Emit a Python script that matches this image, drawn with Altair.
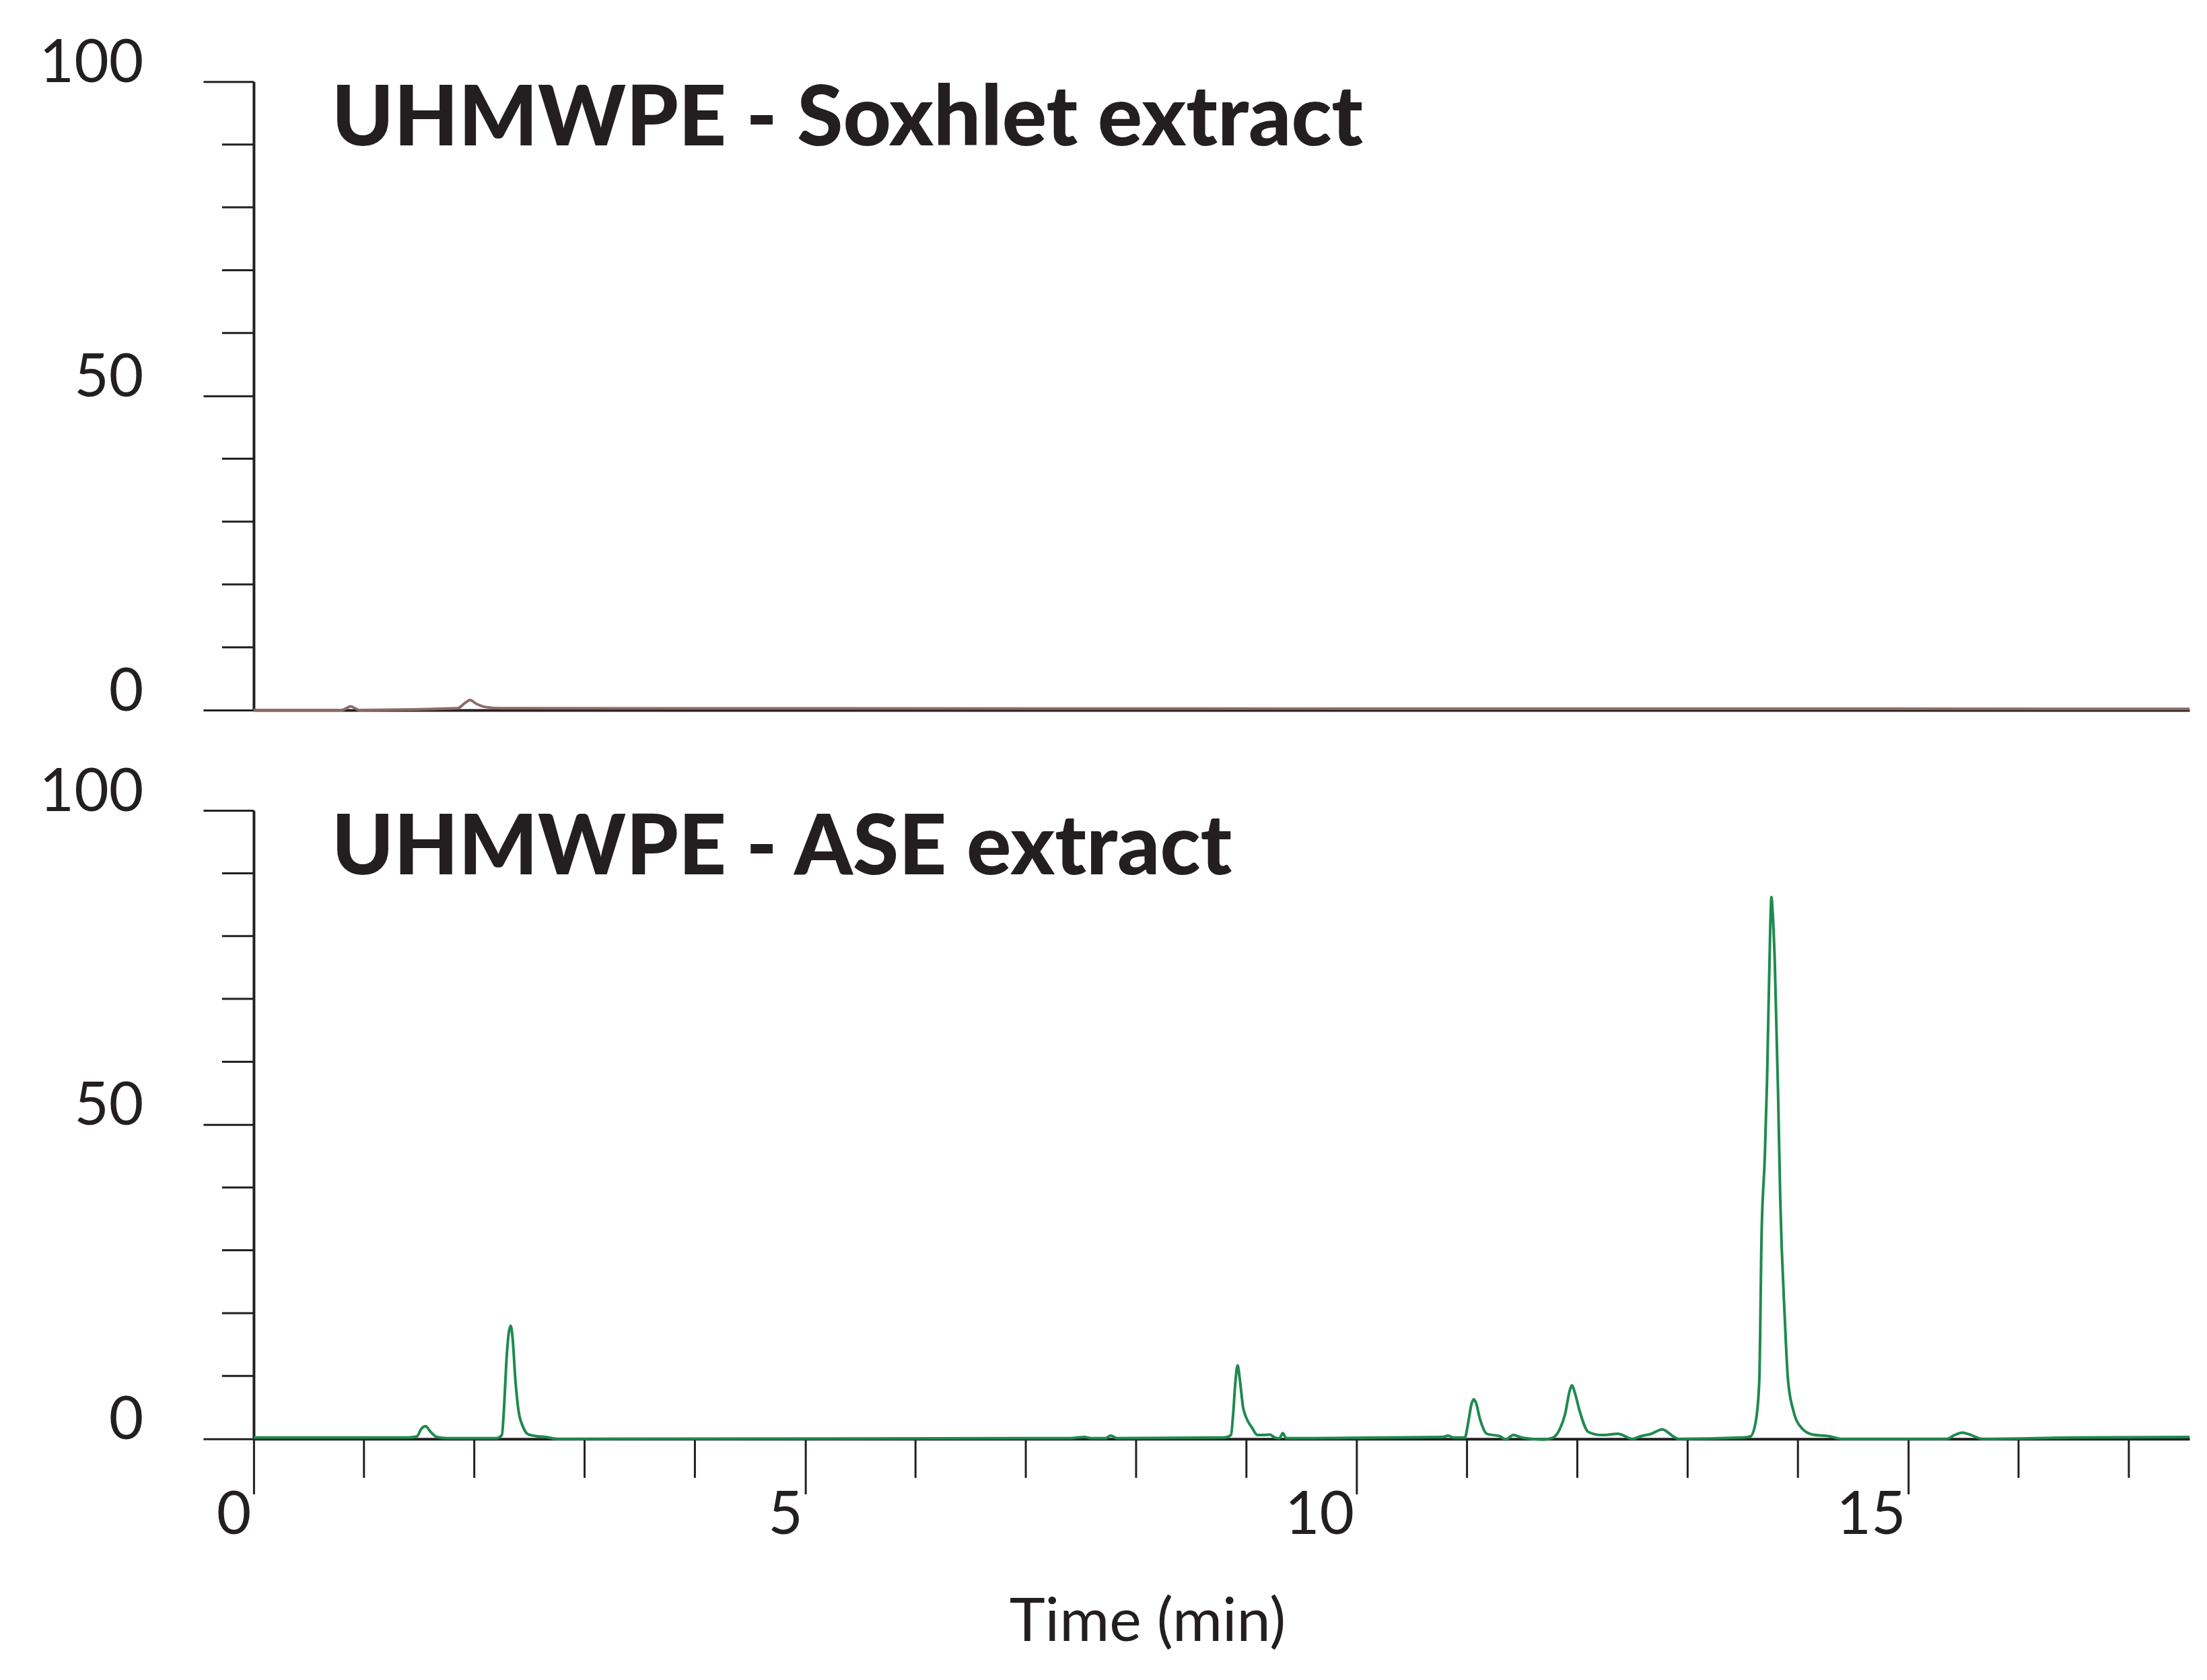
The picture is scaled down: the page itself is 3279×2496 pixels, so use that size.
import altair as alt
import pandas as pd

# ---------------- data ----------------
soxhlet_time = [0.00, 0.80, 0.85, 0.88, 0.92, 0.96, 1.85, 1.92, 1.96, 2.02, 2.10, 2.25, 17.55]
soxhlet_signal = [0.0, 0.0, 0.4, 0.6, 0.3, 0.0, 0.3, 1.2, 1.6, 1.0, 0.5, 0.3, 0.2]

ase_time = [0.00, 1.40, 1.48, 1.52, 1.56, 1.60, 1.66, 1.75,
            2.20, 2.25, 2.27, 2.29, 2.31, 2.33, 2.35, 2.37, 2.40, 2.44, 2.49, 2.58, 2.65, 2.75,
            7.40, 7.53, 7.60, 7.72, 7.77, 7.83,
            8.80, 8.86, 8.88, 8.90, 8.92, 8.94, 8.97, 9.00, 9.05, 9.10, 9.16, 9.21, 9.26, 9.30, 9.33, 9.36, 9.50,
            10.78, 10.83, 10.88, 10.98, 11.01, 11.04, 11.06, 11.08, 11.12, 11.18, 11.30, 11.35, 11.42, 11.50, 11.69,
            11.78, 11.84, 11.89, 11.93, 11.95, 11.98, 12.02, 12.10, 12.22, 12.37, 12.50, 12.57, 12.67, 12.77, 12.87, 12.92,
            13.50, 13.57, 13.62, 13.65, 13.67, 13.70, 13.72, 13.75, 13.76, 13.77, 13.79, 13.82, 13.84, 13.88, 13.91,
            13.96, 14.04, 14.13, 14.29, 14.39,
            15.35, 15.42, 15.49, 15.57, 15.67, 16.50, 17.55]
ase_signal = [0.2, 0.2, 0.4, 1.6, 2.0, 1.2, 0.3, 0.1,
              0.1, 0.6, 5.0, 12.0, 16.5, 18.0, 15.5, 10.0, 4.6, 2.0, 0.7, 0.4, 0.3, 0.0,
              0.1, 0.3, 0.1, 0.1, 0.5, 0.1,
              0.2, 0.6, 4.0, 9.0, 11.7, 9.5, 5.0, 3.3, 1.8, 0.6, 0.6, 0.7, 0.2, 0.1, 0.9, 0.1, 0.1,
              0.3, 0.5, 0.2, 0.2, 2.5, 5.5, 6.3, 5.8, 3.0, 0.8, 0.4, -0.1, 0.6, 0.2, -0.1,
              0.2, 1.5, 4.0, 7.6, 8.5, 7.2, 4.5, 1.1, 0.6, 0.8, 0.0, 0.4, 0.8, 1.5, 0.4, 0.0,
              0.2, 0.4, 3.0, 9.4, 32.0, 45.0, 57.0, 82.0, 86.2, 84.0, 76.0, 55.0, 38.0, 19.5, 9.4,
              4.4, 1.6, 0.7, 0.4, 0.0,
              0.0, 0.6, 1.0, 0.6, 0.0, 0.2, 0.3]

y_major = [0, 50, 100]
y_minor = [10, 20, 30, 40, 60, 70, 80, 90]
x_major = [0, 5, 10, 15]
x_minor = [1, 2, 3, 4, 6, 7, 8, 9, 11, 12, 13, 14, 16, 17]
x_domain = [0, 17.55]
y_domain = [0, 100]
panel_titles = ["UHMWPE - Soxhlet extract", "UHMWPE - ASE extract"]
x_title = "Time (min)"

# ---------------- style ----------------
W, H = 2877, 934
INK = "#231f20"
FONT = "Lato"
SOX_COLOR = "#8c6c68"
ASE_COLOR = "#1e8a4f"

xscale = alt.Scale(domain=x_domain, nice=False, zero=False)
yscale = alt.Scale(domain=y_domain, nice=False)

YAXIS = alt.Axis(values=y_major, tickSize=75, labelPadding=89,
                 labelBaseline="alphabetic", labelAlign="right",
                 labelFlush=False, title=None, grid=False)
XAXIS_BOTTOM = alt.Axis(values=x_major, tickSize=82, labelPadding=59,
                        labelAlign="right", labelOffset=-4,
                        labelBaseline="alphabetic", labelFlush=False,
                        title=x_title, titleX=1328, titleY=300,
                        titleBaseline="alphabetic", titleAlign="center",
                        titleFontSize=90, titleFont=FONT,
                        titleFontWeight="normal", titleColor=INK, grid=False)
XAXIS_TOP = alt.Axis(ticks=False, labels=False, title=None, grid=False)


def panel(t, s, color, title, bottom):
    xaxis = XAXIS_BOTTOM if bottom else XAXIS_TOP
    df = pd.DataFrame({"t": t, "s": s})

    line = alt.Chart(df).mark_line(
        color=color, strokeWidth=4, interpolate="monotone"
    ).encode(
        x=alt.X("t:Q", scale=xscale, axis=xaxis),
        y=alt.Y("s:Q", scale=yscale, axis=YAXIS),
    )
    yminor = alt.Chart(pd.DataFrame({"s": y_minor})).mark_rule(
        color=INK, strokeWidth=3
    ).encode(
        y=alt.Y("s:Q", scale=yscale, axis=YAXIS),
        x=alt.value(-47), x2=alt.value(0),
    )
    label = alt.Chart(pd.DataFrame({"txt": [title]})).mark_text(
        align="left", baseline="alphabetic", font=FONT, fontSize=124,
        fontWeight=900, color=INK,
    ).encode(text="txt:N", x=alt.value(116), y=alt.value(95))

    layers = [yminor]
    if bottom:
        xminor = alt.Chart(pd.DataFrame({"t": x_minor})).mark_rule(
            color=INK, strokeWidth=3
        ).encode(
            x=alt.X("t:Q", scale=xscale, axis=xaxis),
            y=alt.value(H), y2=alt.value(H + 58),
        )
        layers.append(xminor)
    layers += [line, label]
    return alt.layer(*layers).properties(width=W, height=H)


top = panel(soxhlet_time, soxhlet_signal, SOX_COLOR, panel_titles[0], False)
bot = panel(ase_time, ase_signal, ASE_COLOR, panel_titles[1], True)

chart = alt.vconcat(top, bot, spacing=149, bounds="flush").properties(
    padding={"left": 50, "top": 42, "right": 10, "bottom": 10},
    background="white",
).configure_view(stroke=None).configure_axis(
    domainColor=INK, domainWidth=4, tickColor=INK, tickWidth=3,
    labelColor=INK, labelFont=FONT, labelFontSize=89, grid=False,
    labelOverlap=False,
)

chart.save("out.html", embed_options={"renderer": "svg", "actions": False})
